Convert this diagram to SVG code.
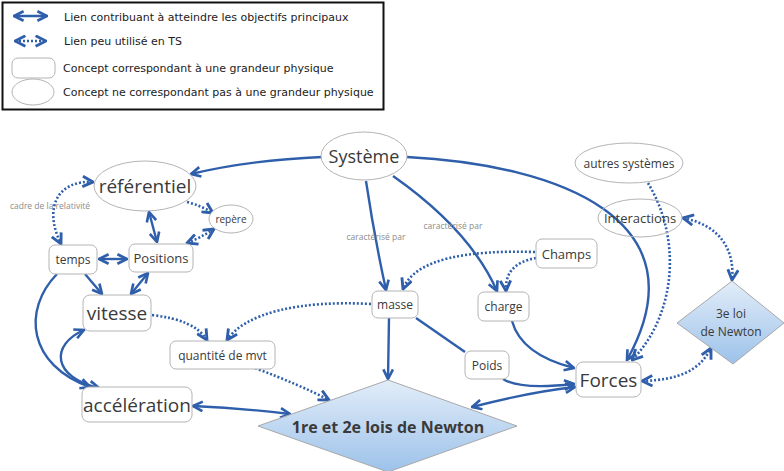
<svg xmlns="http://www.w3.org/2000/svg" width="784" height="471" viewBox="0 0 784 471">
<defs>
<marker id="ah" viewBox="0 0 10 10" refX="9" refY="5" markerWidth="5" markerHeight="5" markerUnits="strokeWidth" orient="auto-start-reverse">
<path d="M1,1 L9,5 L1,9" fill="none" stroke="#2f5fab" stroke-width="2.2"/>
</marker>
<linearGradient id="gd" x1="0" y1="0" x2="0" y2="1">
<stop offset="0" stop-color="#e2edf9"/>
<stop offset="1" stop-color="#9dc2ea"/>
</linearGradient>
<style>
.s{fill:none;stroke:#2f5fab;stroke-width:2.4}
.d{fill:none;stroke:#2f5fab;stroke-width:2.6;stroke-dasharray:2 2}
.e{marker-end:url(#ah)}
.b{marker-start:url(#ah);marker-end:url(#ah)}
.n{fill:#fff;stroke:#b4b4b4;stroke-width:1}
.t{font-family:"Open Sans","Noto Sans",sans-serif;fill:#3a3a3a;text-anchor:middle;dominant-baseline:central}
.l{font-family:"Open Sans","Noto Sans",sans-serif;fill:#8c8c8c;font-size:8.5px;text-anchor:middle;dominant-baseline:central}
.lg{font-family:"DejaVu Sans",Verdana,sans-serif;fill:#222;font-size:11px;dominant-baseline:central}
</style>
</defs>
<rect x="0" y="0" width="784" height="471" fill="#fff"/>
<g id="legend">
<rect x="2.5" y="2.5" width="381" height="107" fill="#fff" stroke="#111" stroke-width="2"/>
<path class="s b" d="M14,16 L47,16"/>
<path class="d b" d="M15,41 L46,41"/>
<rect class="n" x="12" y="58" width="43" height="20" rx="6"/>
<ellipse class="n" cx="33" cy="92" rx="21" ry="13"/>
<text class="lg" x="64" y="17">Lien contribuant à atteindre les objectifs principaux</text>
<text class="lg" x="64" y="41">Lien peu utilisé en TS</text>
<text class="lg" x="63" y="68">Concept correspondant à une grandeur physique</text>
<text class="lg" x="63" y="92">Concept ne correspondant pas à une grandeur physique</text>
</g>
<g id="connectors">
<path class="s e" d="M322,157 Q250,160 191,174"/>
<path class="s e" d="M366,181 Q374,235 386,290"/>
<path class="s e" d="M393,176 Q470,230 497,291"/>
<path class="s e" d="M407,157 C560,165 705,220 627,360"/>
<path class="s b" d="M149,212 L157,242"/>
<path class="d e" d="M187,202 Q202,206 213,213"/>
<path class="d b" d="M214,229 Q200,238 187,243"/>
<path class="d b" d="M93,182 C60,180 42,205 61,244"/>
<path class="s b" d="M99,259 L127,259"/>
<path class="s e" d="M85,274 L102,294"/>
<path class="s b" d="M148,273 L131,294"/>
<path class="s e" d="M57,274 C22,310 28,365 90,387"/>
<path class="s b" d="M84,330 C50,345 52,377 99,388"/>
<path class="d e" d="M152,315 Q195,320 207,340"/>
<path class="d e" d="M371,304 C300,300 245,313 227,340"/>
<path class="d e" d="M255,368 Q300,385 329,400"/>
<path class="s e" d="M389,318 L388,379"/>
<path class="s" d="M416,318 L465,352"/>
<path class="s e" d="M503,379 Q520,390 574,384"/>
<path class="s e" d="M512,321 C520,350 550,362 574,368"/>
<path class="s b" d="M472,407 Q530,392 575,387"/>
<path class="s b" d="M193,406 Q240,408 290,414"/>
<path class="d e" d="M535,252 C470,250 415,258 403,289"/>
<path class="d e" d="M536,258 C515,262 505,272 506,291"/>
<path class="d e" d="M648,183 C685,245 672,320 632,360"/>
<path class="d b" d="M683,218 C720,225 735,250 732,280"/>
<path class="d b" d="M642,381 C680,380 700,370 711,348"/>
</g>
<g id="n-systeme"><ellipse class="n" cx="364" cy="156" rx="43" ry="24"/><text class="t" x="364" y="156" font-size="18">Système</text></g>
<g id="n-referentiel"><ellipse class="n" cx="145" cy="186" rx="51" ry="25"/><text class="t" x="145" y="186" font-size="19">référentiel</text></g>
<g id="n-repere"><ellipse class="n" cx="231" cy="219" rx="22" ry="14"/><text class="t" x="231" y="219" font-size="10">repère</text></g>
<g id="n-temps"><rect class="n" x="49" y="245" width="48" height="29" rx="6"/><text class="t" x="73" y="259.5" font-size="12">temps</text></g>
<g id="n-positions"><rect class="n" x="129" y="244" width="64" height="28" rx="6"/><text class="t" x="161" y="258" font-size="13">Positions</text></g>
<g id="n-vitesse"><rect class="n" x="83" y="295" width="68" height="36" rx="7"/><text class="t" x="117" y="313" font-size="19">vitesse</text></g>
<g id="n-qdm"><rect class="n" x="170" y="341" width="105" height="28" rx="6"/><text class="t" x="222.5" y="355" font-size="12">quantité de mvt</text></g>
<g id="n-acceleration"><rect class="n" x="82" y="387" width="110" height="35" rx="7"/><text class="t" x="137" y="404.5" font-size="19">accélération</text></g>
<g id="n-masse"><rect class="n" x="372" y="291" width="46" height="27" rx="6"/><text class="t" x="395" y="304.5" font-size="12">masse</text></g>
<g id="n-charge"><rect class="n" x="478" y="292" width="51" height="29" rx="6"/><text class="t" x="503.5" y="306.5" font-size="12">charge</text></g>
<g id="n-champs"><rect class="n" x="536" y="239" width="61" height="29" rx="6"/><text class="t" x="566.5" y="253.5" font-size="13">Champs</text></g>
<g id="n-poids"><rect class="n" x="465" y="351" width="44" height="28" rx="6"/><text class="t" x="487" y="365" font-size="12">Poids</text></g>
<g id="n-forces"><rect class="n" x="576" y="362" width="65" height="35" rx="7"/><text class="t" x="608.5" y="379.5" font-size="19">Forces</text></g>
<g id="n-autres"><ellipse class="n" cx="629" cy="163" rx="54" ry="20"/><text class="t" x="629" y="163" font-size="12">autres systèmes</text></g>
<g id="n-interactions"><ellipse cx="640" cy="218" rx="42" ry="19" fill="none" stroke="#b4b4b4" stroke-width="1"/><text class="t" x="640" y="218" font-size="13">Interactions</text></g>
<g id="n-lois12"><path d="M388,380 L517,426 L388,472 L258,426 Z" fill="url(#gd)" stroke="#a8a8a8" stroke-width="1"/><text class="t" x="388" y="427" font-size="16" font-weight="bold" fill="#3a3a3a">1re et 2e lois de Newton</text></g>
<g id="n-loi3"><path d="M732,281 L784,323 L733,364 L677,323 Z" fill="url(#gd)" stroke="#a8a8a8" stroke-width="1"/><text class="t" x="731" y="313" font-size="12">3e loi</text><text class="t" x="731" y="331" font-size="12">de Newton</text></g>
<g id="labels">
<text class="l" x="50" y="205">cadre de la relativité</text>
<text class="l" x="376" y="236">caractérisé par</text>
<text class="l" x="453" y="225">caractérisé par</text>
</g>
</svg>
